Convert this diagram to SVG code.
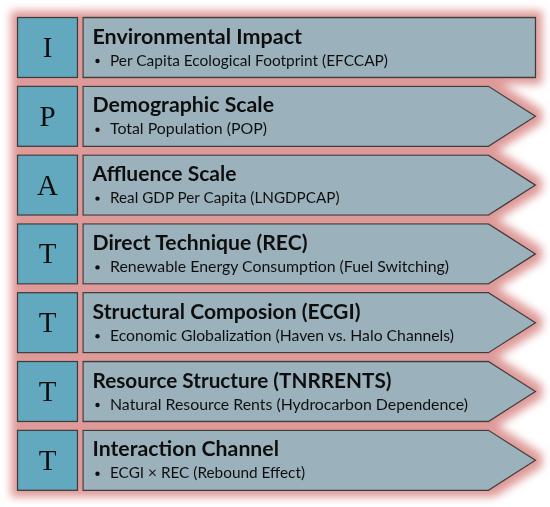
<svg xmlns="http://www.w3.org/2000/svg" width="550" height="507" viewBox="0 0 550 507">
<defs>
<filter id="glow" x="-5%" y="-5%" width="110%" height="110%">
<feMorphology in="SourceAlpha" operator="dilate" radius="6" result="d"/>
<feGaussianBlur in="d" stdDeviation="4" result="b"/>
<feFlood flood-color="#de9a98" result="f"/>
<feComposite in="f" in2="b" operator="in" result="g"/>
<feMerge><feMergeNode in="g"/><feMergeNode in="SourceGraphic"/></feMerge>
</filter>
</defs>
<style>
.sq{fill:#62a9bf;stroke:#3c3c3c;stroke-width:1.3}
.bx{fill:#9bb2bd;stroke:#3c3c3c;stroke-width:1.3}
.let{font-family:"Liberation Serif",serif;font-size:29px;fill:#111;text-anchor:middle}
.ttl{font-family:Lato,"Liberation Sans",sans-serif;font-weight:bold;font-size:20px;fill:#111}
.sub{font-family:Lato,"Liberation Sans",sans-serif;font-size:16px;fill:#111}
.dot{fill:#111}
</style>
<rect width="550" height="507" fill="#ffffff"/>
<g filter="url(#glow)">
<g id="row1">
<rect class="sq" x="17.5" y="17.5" width="60" height="60"/>
<path class="bx" d="M83 17.5H535.5V77.5H83Z"/>
<text class="let" x="47.5" y="57">I</text>
<text class="ttl" x="92.5" y="43.5" textLength="209.5" lengthAdjust="spacingAndGlyphs">Environmental Impact</text>
<circle class="dot" cx="97.5" cy="61" r="2.2"/>
<text class="sub" x="110" y="65.5" textLength="278" lengthAdjust="spacingAndGlyphs">Per Capita Ecological Footprint (EFCCAP)</text>
</g>
<g id="row2">
<rect class="sq" x="17.5" y="86.3" width="60" height="60"/>
<path class="bx" d="M83 86.3H488.5L535.5 116.3L488.5 146.3H83Z"/>
<text class="let" x="47.5" y="125.8">P</text>
<text class="ttl" x="92.5" y="112.3" textLength="181.5" lengthAdjust="spacingAndGlyphs">Demographic Scale</text>
<circle class="dot" cx="97.5" cy="129.8" r="2.2"/>
<text class="sub" x="110" y="134.3" textLength="157" lengthAdjust="spacingAndGlyphs">Total Population (POP)</text>
</g>
<g id="row3">
<rect class="sq" x="17.5" y="155.1" width="60" height="60"/>
<path class="bx" d="M83 155.1H488.5L535.5 185.1L488.5 215.1H83Z"/>
<text class="let" x="47.5" y="194.6">A</text>
<text class="ttl" x="92.5" y="181.1" textLength="144" lengthAdjust="spacingAndGlyphs">Affluence Scale</text>
<circle class="dot" cx="97.5" cy="198.6" r="2.2"/>
<text class="sub" x="110" y="203.1" textLength="229.5" lengthAdjust="spacingAndGlyphs">Real GDP Per Capita (LNGDPCAP)</text>
</g>
<g id="row4">
<rect class="sq" x="17.5" y="223.9" width="60" height="60"/>
<path class="bx" d="M83 223.9H488.5L535.5 253.9L488.5 283.9H83Z"/>
<text class="let" x="47.5" y="263.4">T</text>
<text class="ttl" x="92.5" y="249.9" textLength="215" lengthAdjust="spacingAndGlyphs">Direct Technique (REC)</text>
<circle class="dot" cx="97.5" cy="267.4" r="2.2"/>
<text class="sub" x="110" y="271.9" textLength="339" lengthAdjust="spacingAndGlyphs">Renewable Energy Consumption (Fuel Switching)</text>
</g>
<g id="row5">
<rect class="sq" x="17.5" y="292.7" width="60" height="60"/>
<path class="bx" d="M83 292.7H488.5L535.5 322.7L488.5 352.7H83Z"/>
<text class="let" x="47.5" y="332.2">T</text>
<text class="ttl" x="92.5" y="318.7" textLength="268" lengthAdjust="spacingAndGlyphs">Structural Composion (ECGI)</text>
<circle class="dot" cx="97.5" cy="336.2" r="2.2"/>
<text class="sub" x="110" y="340.7" textLength="344" lengthAdjust="spacingAndGlyphs">Economic Globalization (Haven vs. Halo Channels)</text>
</g>
<g id="row6">
<rect class="sq" x="17.5" y="361.5" width="60" height="60"/>
<path class="bx" d="M83 361.5H488.5L535.5 391.5L488.5 421.5H83Z"/>
<text class="let" x="47.5" y="401">T</text>
<text class="ttl" x="92.5" y="387.5" textLength="299" lengthAdjust="spacingAndGlyphs">Resource Structure (TNRRENTS)</text>
<circle class="dot" cx="97.5" cy="405" r="2.2"/>
<text class="sub" x="110" y="409.5" textLength="358" lengthAdjust="spacingAndGlyphs">Natural Resource Rents (Hydrocarbon Dependence)</text>
</g>
<g id="row7">
<rect class="sq" x="17.5" y="430.3" width="60" height="60"/>
<path class="bx" d="M83 430.3H488.5L535.5 460.3L488.5 490.3H83Z"/>
<text class="let" x="47.5" y="469.8">T</text>
<text class="ttl" x="92.5" y="456.3" textLength="186.5" lengthAdjust="spacingAndGlyphs">Interaction Channel</text>
<circle class="dot" cx="97.5" cy="473.8" r="2.2"/>
<text class="sub" x="110" y="478.3" textLength="195" lengthAdjust="spacingAndGlyphs">ECGI × REC (Rebound Effect)</text>
</g>
</g>
<g id="connectors"/>
</svg>
